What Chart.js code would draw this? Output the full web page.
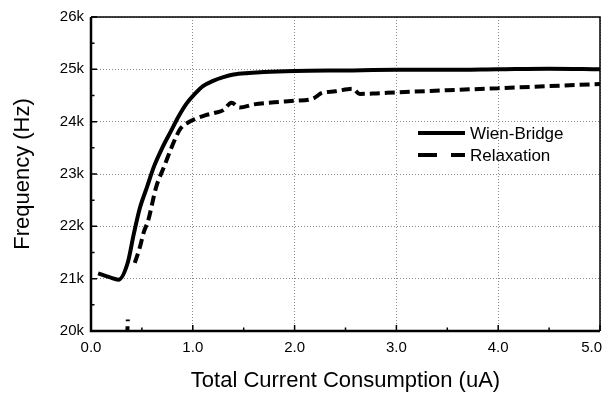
<!DOCTYPE html>
<html>
<head>
<meta charset="utf-8">
<script src="https://cdn.jsdelivr.net/npm/chart.js@4"></script>
<style>
  html, body { margin: 0; padding: 0; background: #fff; }
  #wrap { width: 608px; height: 394px; position: relative; }
</style>
</head>
<body>
<div id="wrap"><canvas id="c" width="608" height="394"></canvas></div>
<script>
// ---- data (frequency in Hz, current in uA) ----
const seriesNames = ['Wien-Bridge', 'Relaxation'];
const wienX = [0.07, 0.18, 0.27, 0.36, 0.42, 0.48, 0.55, 0.62, 0.70, 0.78, 0.86, 0.94, 1.02, 1.10, 1.20, 1.30, 1.40, 1.55, 1.70, 2.0, 2.5, 3.0, 3.5, 4.0, 4.5, 5.0];
const wienY = [21100, 21030, 20980, 21300, 21850, 22350, 22750, 23150, 23500, 23800, 24100, 24350, 24530, 24680, 24780, 24850, 24900, 24930, 24950, 24970, 24980, 24990, 24990, 25000, 25010, 25000];
const relaxX = [0.355, 0.362, 0.40, 0.43, 0.48, 0.52, 0.56, 0.64, 0.72, 0.80, 0.88, 0.95, 1.02, 1.12, 1.22, 1.30, 1.38, 1.46, 1.60, 1.80, 2.00, 2.18, 2.27, 2.40, 2.57, 2.64, 2.80, 3.0, 3.5, 4.0, 4.5, 5.0];
const relaxY = [19900, 20220, null, 21300, 21600, 21900, 22100, 22750, 23150, 23550, 23870, 23980, 24050, 24120, 24170, 24220, 24360, 24270, 24330, 24370, 24400, 24440, 24550, 24580, 24630, 24530, 24540, 24560, 24600, 24640, 24680, 24720];
const xTicks = [0, 1, 2, 3, 4, 5];
const yTicks = [20000, 21000, 22000, 23000, 24000, 25000, 26000];
const xMinorTicks = [0.5, 1.5, 2.5, 3.5, 4.5];
const yMinorTicks = [20500, 21500, 22500, 23500, 24500, 25500];

const FONT = '"Liberation Sans", Arial, Helvetica, sans-serif';

function pts(xs, ys) { return xs.map((x, i) => ({ x: x, y: ys[i] })); }

const frame = {
  id: 'frame',
  afterDatasetsDraw(chart) {
    const ctx = chart.ctx, a = chart.chartArea;
    const xs = chart.scales.x, ys = chart.scales.y;
    ctx.save();
    ctx.strokeStyle = '#000';
    // ticks (inward)
    ctx.lineWidth = 1.5;
    ctx.beginPath();
    xTicks.forEach(v => { const p = xs.getPixelForValue(v); ctx.moveTo(p, a.bottom); ctx.lineTo(p, a.bottom - 6); });
    xMinorTicks.forEach(v => { const p = xs.getPixelForValue(v); ctx.moveTo(p, a.bottom); ctx.lineTo(p, a.bottom - 3.5); });
    yTicks.forEach(v => { const p = ys.getPixelForValue(v); ctx.moveTo(a.left, p); ctx.lineTo(a.left + 6, p); });
    yMinorTicks.forEach(v => { const p = ys.getPixelForValue(v); ctx.moveTo(a.left, p); ctx.lineTo(a.left + 3.5, p); });
    ctx.stroke();
    // top/right border
    ctx.lineWidth = 1.5;
    ctx.beginPath();
    ctx.moveTo(a.left, a.top); ctx.lineTo(a.right, a.top); ctx.lineTo(a.right, a.bottom);
    ctx.stroke();
    // left/bottom axes
    ctx.lineWidth = 2.5;
    ctx.beginPath();
    ctx.moveTo(a.left, a.top); ctx.lineTo(a.left, a.bottom); ctx.lineTo(a.right, a.bottom);
    ctx.stroke();
    // legend
    const ds = chart.data.datasets;
    const lx0 = a.left + 327, lx1 = a.left + 374, tx = a.left + 379;
    const rows = [a.top + 116, a.top + 138];
    ctx.font = '17px ' + FONT;
    ctx.textBaseline = 'middle';
    ctx.fillStyle = '#000';
    ds.forEach((d, i) => {
      ctx.lineWidth = d.borderWidth;
      ctx.setLineDash(i === 0 ? [] : [19, 14]);
      ctx.beginPath();
      ctx.moveTo(lx0, rows[i]); ctx.lineTo(lx1, rows[i]);
      ctx.stroke();
      ctx.setLineDash([]);
      ctx.fillText(d.label, tx, rows[i] + 1);
    });
    ctx.restore();
  }
};

new Chart(document.getElementById('c'), {
  type: 'line',
  data: {
    datasets: [
      { label: seriesNames[0], data: pts(wienX, wienY), borderColor: '#000', borderWidth: 4,
        pointRadius: 0, cubicInterpolationMode: 'monotone', fill: false },
      { label: seriesNames[1], data: pts(relaxX, relaxY), borderColor: '#000', borderWidth: 4,
        borderDash: [10, 5], pointRadius: 0, cubicInterpolationMode: 'monotone', fill: false, spanGaps: false }
    ]
  },
  options: {
    responsive: false,
    animation: false,
    events: [],
    layout: { padding: { left: 0, right: 8, top: 17, bottom: 0 } },
    plugins: { legend: { display: false }, tooltip: { enabled: false } },
    scales: {
      x: {
        type: 'linear', min: 0, max: 5,
        afterBuildTicks: s => { s.ticks = xTicks.map(v => ({ value: v })); },
        afterFit: s => { s.height = 63; s.paddingLeft = 0; s.paddingRight = 0; },
        ticks: { color: '#000', font: { family: FONT, size: 15 }, padding: 8, maxRotation: 0,
                 callback: v => Number(v).toFixed(1) + (v === 5 ? '    ' : '') },
        grid: { color: '#8a8a8a', lineWidth: 1, drawTicks: false },
        border: { display: false, dash: [1, 2] },
        title: { display: true, text: 'Total Current Consumption (uA)', color: '#000',
                 font: { family: FONT, size: 22 }, padding: { top: 1, bottom: 0 } }
      },
      y: {
        type: 'linear', min: 20000, max: 26000,
        afterBuildTicks: s => { s.ticks = yTicks.map(v => ({ value: v })); },
        afterFit: s => { s.width = 91; s.paddingTop = 0; s.paddingBottom = 0; },
        ticks: { color: '#000', font: { family: FONT, size: 15 }, padding: 7,
                 callback: v => (v / 1000) + 'k' },
        grid: { color: '#8a8a8a', lineWidth: 1, drawTicks: false },
        border: { display: false, dash: [1, 2] },
        title: { display: true, text: 'Frequency (Hz)', color: '#000',
                 font: { family: FONT, size: 22 }, padding: { top: 10, bottom: 0 } }
      }
    }
  },
  plugins: [frame]
});
</script>
</body>
</html>
